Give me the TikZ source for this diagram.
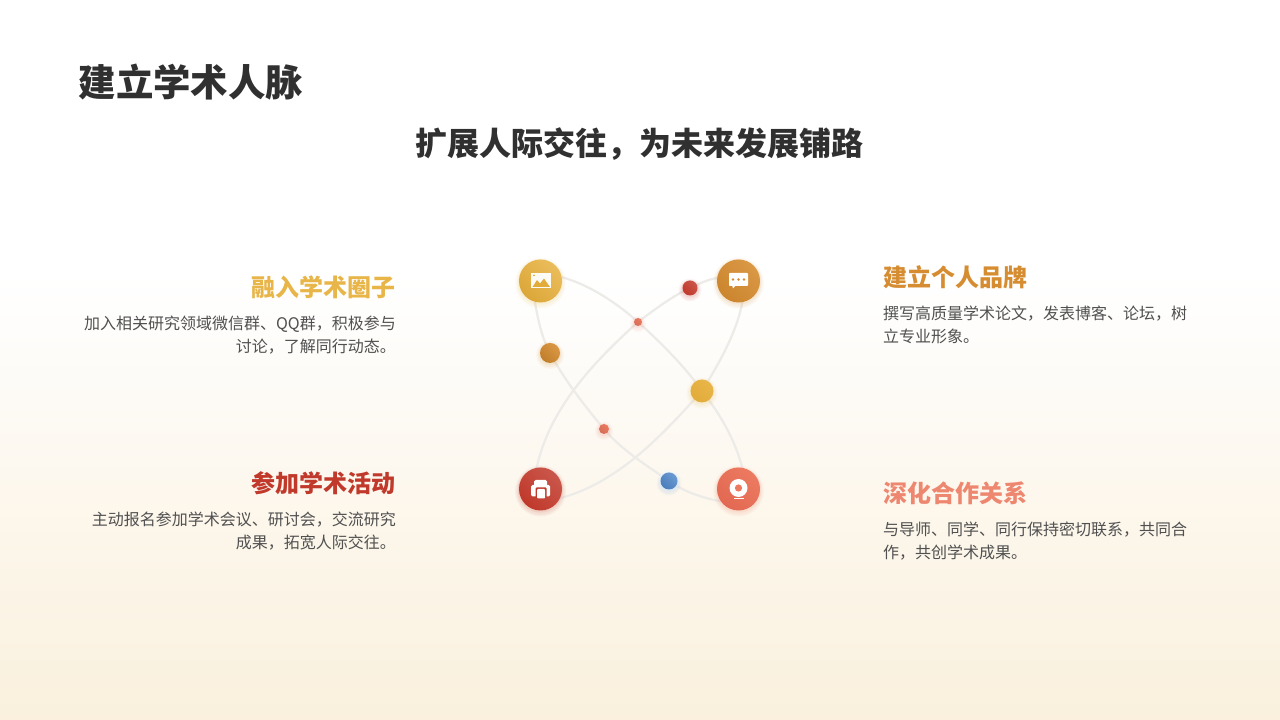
\documentclass[tikz,border=0pt]{standalone}
\usepackage{fontspec}
\setmainfont{Noto Sans CJK SC}
\pgfdeclarelayer{bg}
\pgfsetlayers{bg,main}
\pgfdeclareverticalshading{pagebg}{100bp}{
  rgb(0bp)=(0.980,0.941,0.867);
  rgb(25bp)=(0.980,0.941,0.867);
  rgb(33.5bp)=(0.984,0.957,0.902);
  rgb(40.5bp)=(0.992,0.969,0.929);
  rgb(47bp)=(0.992,0.980,0.961);
  rgb(52bp)=(0.996,0.992,0.984);
  rgb(56bp)=(1,1,1);
  rgb(100bp)=(1,1,1)}
\definecolor{linec}{HTML}{EDEBE8}
\definecolor{gold}{HTML}{E8B548}
\definecolor{goldd}{HTML}{E2AC3B}
\definecolor{orange}{HTML}{D68C30}
\definecolor{brick}{HTML}{C0392B}
\definecolor{coral}{HTML}{EC7A60}
\definecolor{bluea}{HTML}{6C9BD2}
\definecolor{blueb}{HTML}{4A7DBB}
\definecolor{bodyc}{HTML}{505050}
\definecolor{titlec}{HTML}{303030}
\tikzset{
  x=1pt,y=1pt,
  orb/.style n args={3}{circle,draw=none,inner sep=0pt,minimum size=#1,
    left color=#2,right color=#3,shading angle=-45},
  conn/.style={draw=linec,line width=2.2pt,line cap=round},
  titletxt/.style={inner sep=0pt,font=\bfseries\fontsize{37.4}{40}\selectfont,text=titlec},
  subtxt/.style={inner sep=0pt,font=\bfseries\fontsize{32}{36}\selectfont,text=titlec},
  headtxt/.style={inner sep=0pt,font=\bfseries\fontsize{24}{28}\selectfont},
  bodytxt/.style={inner sep=0pt,font=\fontsize{16}{23}\selectfont,text=bodyc},
}
\newcommand{\glowat}[3]{%
  \fill[#2,opacity=.05] ([yshift=-2pt]#1.center) circle (#3+4);
  \fill[#2,opacity=.07] ([yshift=-2pt]#1.center) circle (#3+2.5);
  \fill[#2,opacity=.09] ([yshift=-1pt]#1.center) circle (#3+1.2);
}
\begin{document}
\begin{tikzpicture}
\useasboundingbox (0,0) rectangle (1280,720);
% orbit nodes
\node[orb={43pt}{gold!90!white}{goldd!97!black}] (tl) at (540.5,439) {};
\node[orb={43pt}{orange!90!white}{orange!95!black}] (tr) at (738.5,439) {};
\node[orb={43pt}{brick!85!white}{brick}] (bl) at (540.5,231) {};
\node[orb={43pt}{coral}{coral!90!red!95!black}] (br) at (738.5,231) {};
\node[orb={15pt}{brick!85!white}{brick}] (red) at (690,432) {};
\node[orb={8pt}{coral}{coral!90!black}] (pa) at (638,398) {};
\node[orb={20pt}{orange!90!white}{orange!90!black}] (org) at (550,367) {};
\node[orb={23pt}{gold}{goldd}] (yel) at (702,329) {};
\node[orb={10pt}{coral}{coral!90!black}] (pb) at (604,291) {};
\node[orb={17pt}{bluea}{blueb}] (blu) at (669,239) {};
% image icon
\fill[white,opacity=.95] (531,432) rectangle (551,447);
\fill[goldd] (532.5,433) -- (537,440) -- (540,436.5) -- (544,441.5) -- (550,433) -- cycle;
\fill[goldd] (534,444.5) circle (1);
% chat icon
\fill[white,rounded corners=.8pt] (729,434) rectangle (748,447);
\fill[white] (732,435) -- (733,431.5) -- (736,435) -- cycle;
\fill[orange] (733,440.5) circle (1.3) (738.5,440.5) circle (1.3) (744,440.5) circle (1.3);
% printer icon
\fill[white,rounded corners=1.5pt] (534,240) rectangle (547,228);
\fill[white,rounded corners=1.5pt] (531,235) rectangle (550,223.5);
\fill[brick,rounded corners=1pt] (535.5,232.5) rectangle (546.5,222);
\fill[white,rounded corners=1pt] (537,231) rectangle (545,221.5);
% webcam icon
\fill[white] (738.5,232) circle (9);
\fill[coral] (738.5,232) circle (3.6);
\fill[white] (733.5,221.4) rectangle (743.5,222.2);
\begin{pgfonlayer}{bg}
\shade[shading=pagebg] (0,0) rectangle (1280,720);
\draw[conn] (tl.10) .. controls +(-15:28) and +(138:28) .. (pa.center)
  .. controls +(-42:30) and +(125:30) .. (yel.center)
  .. controls +(-52:30) and +(105:30) .. (br.80);
\draw[conn] (tl.255) .. controls +(-80:18) and +(118:18) .. (org.center)
  .. controls +(-62:30) and +(130:30) .. (pb.center)
  .. controls +(-50:28) and +(145:28) .. (blu.center)
  .. controls +(-35:20) and +(168:20) .. (br.215);
\draw[conn] (tr.172) .. controls +(190:10) and +(25:10) .. (red.center)
  .. controls +(205:20) and +(37:20) .. (pa.center)
  .. controls +(222:60) and +(78:60) .. (bl.100);
\draw[conn] (tr.-80) .. controls +(-100:30) and +(58:30) .. (yel.center)
  .. controls +(228:60) and +(15:60) .. (bl.-25);
\glowat{tl}{gold}{21.5}
\glowat{tr}{orange}{21.5}
\glowat{bl}{brick}{21.5}
\glowat{br}{coral}{21.5}
\glowat{red}{brick}{7.5}
\glowat{pa}{coral}{4}
\glowat{org}{orange}{10}
\glowat{yel}{gold}{11.5}
\glowat{pb}{coral}{5}
\fill[white,opacity=.8] (blu.center) circle (10.5);
\glowat{blu}{bluea}{8.5}
\end{pgfonlayer}
% text
\node[titletxt,anchor=west] (title) at (78.5,638) {建立学术人脉};
\node[subtxt] (sub) at (639,576) {扩展人际交往，为未来发展铺路};
\node[headtxt,anchor=east,text=gold] (h1) at (396,433) {融入学术圈子};
\node[bodytxt,anchor=north east,align=right] (b1) at (396,404) {加入相关研究领域微信群、QQ群，积极参与\\讨论，了解同行动态。};
\node[headtxt,anchor=east,text=brick] (h2) at (396,237) {参加学术活动};
\node[bodytxt,anchor=north east,align=right] (b2) at (396,208) {主动报名参加学术会议、研讨会，交流研究\\成果，拓宽人际交往。};
\node[headtxt,anchor=west,text=orange] (h3) at (883,443) {建立个人品牌};
\node[bodytxt,anchor=north west,align=left] (b3) at (883,414) {撰写高质量学术论文，发表博客、论坛，树\\立专业形象。};
\node[headtxt,anchor=west,text=coral!90!white] (h4) at (883,227) {深化合作关系};
\node[bodytxt,anchor=north west,align=left] (b4) at (883,198) {与导师、同学、同行保持密切联系，共同合\\作，共创学术成果。};
\end{tikzpicture}
\end{document}
